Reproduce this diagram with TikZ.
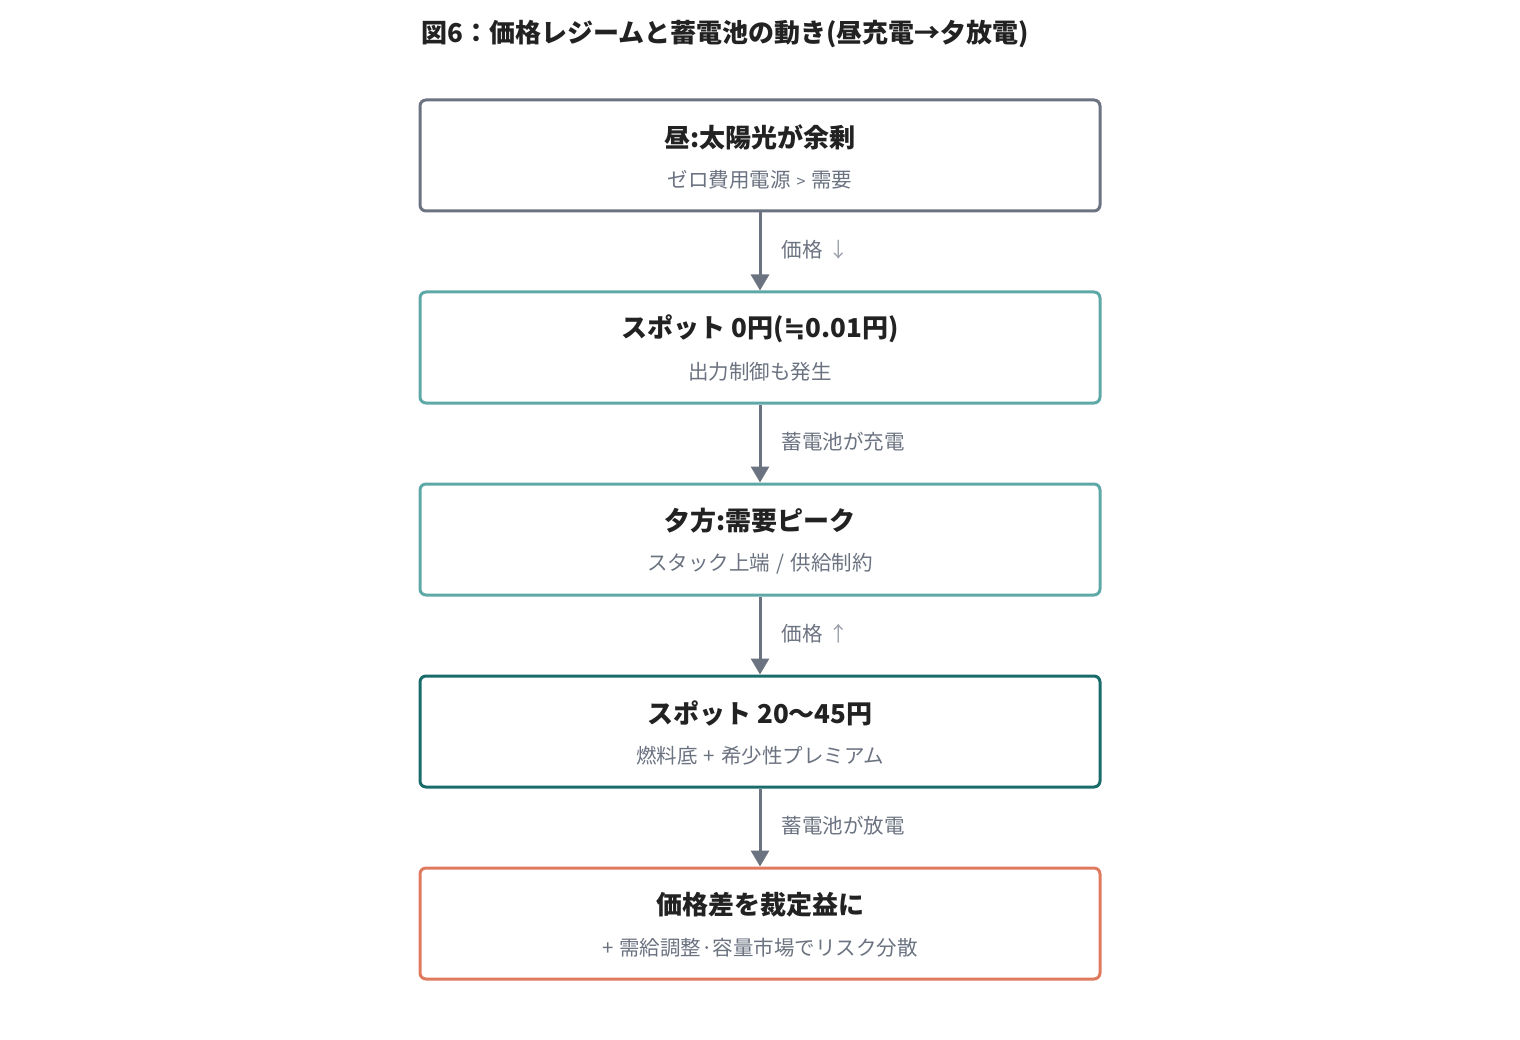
\documentclass[tikz,border=0pt]{standalone}
\usepackage{fontspec}
\setmainfont{Noto Sans CJK JP}
\newfontfamily\symfont{DejaVu Sans}
\usetikzlibrary{arrows.meta}
\definecolor{ink}{HTML}{222222}
\definecolor{subgray}{HTML}{6B7280}
\definecolor{linegray}{HTML}{6B7280}
\definecolor{arrgray}{HTML}{9AA0AA}
\definecolor{tealL}{HTML}{5FA8A8}
\definecolor{tealD}{HTML}{1A6B6B}
\definecolor{orng}{HTML}{E07A5F}
\newcommand{\gap}{\hspace{6pt}}
\begin{document}
\begin{tikzpicture}[x=1pt,y=-1pt,
  box/.style={draw=#1,line width=3pt,rounded corners=6pt,minimum width=680pt,minimum height=111pt,inner sep=0pt},
  ttl/.style={font=\fontsize{26}{30}\selectfont\bfseries,text=ink},
  sub/.style={font=\fontsize{20.5}{24}\selectfont,text=subgray},
  elab/.style={font=\fontsize{20.5}{24}\selectfont,text=subgray,anchor=west},
  conn/.style={draw=linegray,line width=3pt,-{Triangle[length=16pt,width=18pt]}}
]
\useasboundingbox (0,0) rectangle (1520,1040);
\node[anchor=west,font=\fontsize{26}{30}\selectfont\bfseries,text=ink] (title) at (418,34) {図6：価格レジームと蓄電池の動き(昼充電→夕放電)};

\node[box=linegray] (b1) at (760,155.5) {};
\node[box=tealL] (b2) at (760,347.5) {};
\node[box=tealL] (b3) at (760,539.5) {};
\node[box=tealD] (b4) at (760,731.5) {};
\node[box=orng] (b5) at (760,923.5) {};

\node[ttl] (t1) at (760,137) {昼:太陽光が余剰};
\node[sub] (s1) at (760,180) {ゼロ費用電源\gap{\fontsize{16}{20}\selectfont >}\gap 需要};
\node[ttl] (t2) at (760,329) {スポット 0円({\symfont\bfseries ≒}0.01円)};
\node[sub] (s2) at (760,372) {出力制御も発生};
\node[ttl] (t3) at (760,521) {夕方:需要ピーク};
\node[sub] (s3) at (760,564) {スタック上端\gap/\gap 供給制約};
\node[ttl] (t4) at (760,713) {スポット 20〜45円};
\node[sub] (s4) at (760,756) {燃料底\gap+\gap 希少性プレミアム};
\node[ttl] (t5) at (760,905) {価格差を裁定益に};
\node[sub] (s5) at (760,948) {+\gap 需給調整·容量市場でリスク分散};

\draw[conn] (b1.south) -- (b2.north);
\draw[conn] (b2.south) -- (b3.north);
\draw[conn] (b3.south) -- (b4.north);
\draw[conn] (b4.south) -- (b5.north);

\node[elab] (e1) at (778,250) {価格\gap{\color{arrgray}↓}};
\node[elab] (e2) at (778,442) {蓄電池が充電};
\node[elab] (e3) at (778,634) {価格\gap{\color{arrgray}↑}};
\node[elab] (e4) at (778,826) {蓄電池が放電};
\end{tikzpicture}
\end{document}
